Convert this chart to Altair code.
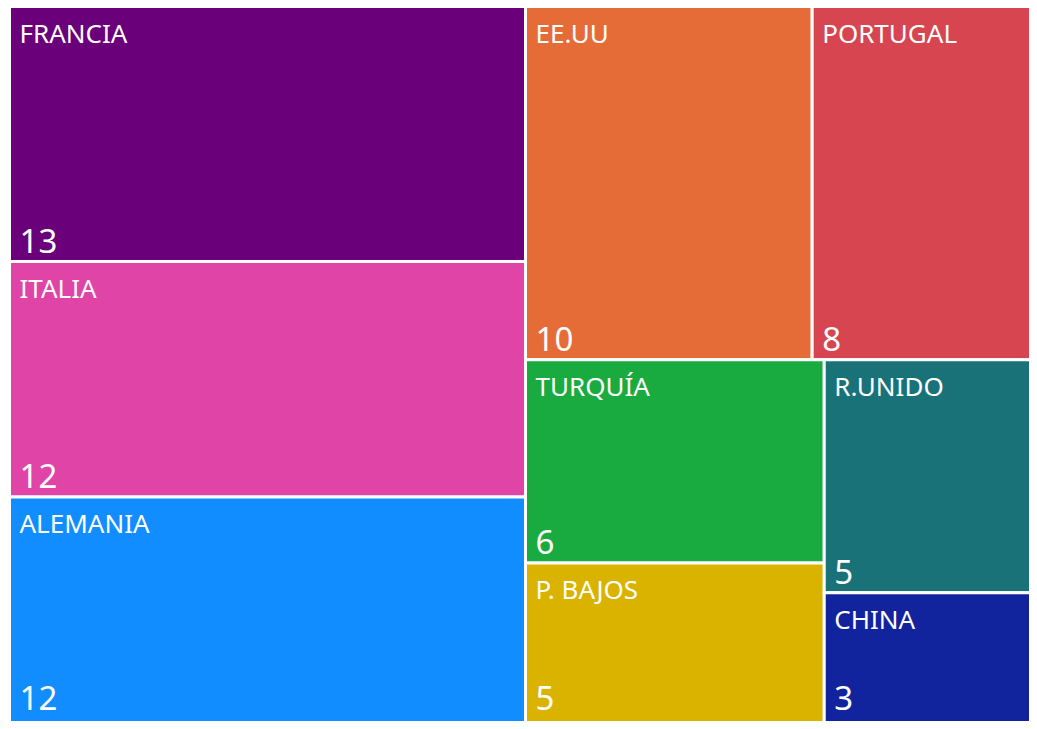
import altair as alt
import pandas as pd

# ---- data ----
categories = ["FRANCIA", "ITALIA", "ALEMANIA", "EE.UU", "PORTUGAL",
              "TURQUÍA", "P. BAJOS", "R.UNIDO", "CHINA"]
values = [13, 12, 12, 10, 8, 6, 5, 5, 3]
colors = ["#6B007B", "#E044A7", "#118DFF", "#E66C37", "#D64550",
          "#1AAB40", "#D9B300", "#197278", "#12239E"]

# ---- squarified treemap layout (d3 algorithm, golden ratio) ----
PHI = (1 + 5 ** 0.5) / 2
LAYOUT_W, LAYOUT_H = 1032.0, 726.0


def squarify(vals, x0, y0, x1, y1, ratio=PHI):
    rects = [None] * len(vals)
    total = float(sum(vals))
    i0 = i1 = 0
    n = len(vals)
    while i0 < n:
        dx, dy = x1 - x0, y1 - y0
        s = vals[i1]; i1 += 1
        mn = mx = s
        alpha = max(dy / dx, dx / dy) / (total * ratio)
        beta = s * s * alpha
        min_ratio = max(mx / beta, beta / mn)
        while i1 < n:
            v = vals[i1]
            s2 = s + v
            mn2, mx2 = min(mn, v), max(mx, v)
            beta = s2 * s2 * alpha
            new_ratio = max(mx2 / beta, beta / mn2)
            if new_ratio > min_ratio:
                break
            s, mn, mx, min_ratio = s2, mn2, mx2, new_ratio
            i1 += 1
        row = list(range(i0, i1))
        if dx < dy:  # dice: row across the top
            ny = y0 + dy * s / total
            cx = x0
            for k in row:
                w = (x1 - x0) * vals[k] / s
                rects[k] = (cx, y0, cx + w, ny)
                cx += w
            y0 = ny
        else:  # slice: column on the left
            nx = x0 + dx * s / total
            cy = y0
            for k in row:
                h = (y1 - y0) * vals[k] / s
                rects[k] = (x0, cy, nx, cy + h)
                cy += h
            x0 = nx
        total -= s
        i0 = i1
    return rects


W, H = 1021, 713          # plot area (fits the page without scrolling)
OFF_X, OFF_Y = 1.5, -1.5  # where layout origin sits inside the plot area
NUM_DY = -9

rects = squarify(values, 0.0, 0.0, LAYOUT_W, LAYOUT_H)
# keep value labels of tiles that run past the visible bottom fully inside it
label_limit = H - 11 - NUM_DY - OFF_Y
df = pd.DataFrame({
    "cat": categories,
    "value": values,
    "x0": [r[0] for r in rects],
    "y0": [r[1] for r in rects],
    "x1": [r[2] for r in rects],
    "y1": [r[3] for r in rects],
})
df["ylab"] = df["y1"].clip(upper=label_limit)

xs = alt.Scale(domain=[-OFF_X, W - OFF_X], nice=False, zero=False)
ys = alt.Scale(domain=[-OFF_Y, H - OFF_Y], nice=False, zero=False, reverse=True)
FONT = "Noto Sans"

base = alt.Chart(df)

tiles = base.mark_rect(stroke="white", strokeWidth=3, clip=True).encode(
    x=alt.X("x0:Q", scale=xs, axis=None),
    x2="x1:Q",
    y=alt.Y("y0:Q", scale=ys, axis=None),
    y2="y1:Q",
    color=alt.Color("cat:N", scale=alt.Scale(domain=categories, range=colors), legend=None),
)

names = base.mark_text(align="left", baseline="alphabetic", dx=10, dy=36,
                       fontSize=26, font=FONT, color="white", clip=True).encode(
    x=alt.X("x0:Q", scale=xs, axis=None),
    y=alt.Y("y0:Q", scale=ys, axis=None),
    text="cat:N",
)

nums = base.mark_text(align="left", baseline="alphabetic", dx=10, dy=NUM_DY,
                      fontSize=33, font=FONT, color="white", clip=True).encode(
    x=alt.X("x0:Q", scale=xs, axis=None),
    y=alt.Y("ylab:Q", scale=ys, axis=None),
    text="value:Q",
)

chart = alt.layer(tiles, names, nums).properties(
    width=W, height=H, padding=0, background="white",
    autosize=alt.AutoSizeParams(type="none"),
).configure_view(stroke=None)

chart.save("out.html", embed_options={"renderer": "svg", "actions": False})
